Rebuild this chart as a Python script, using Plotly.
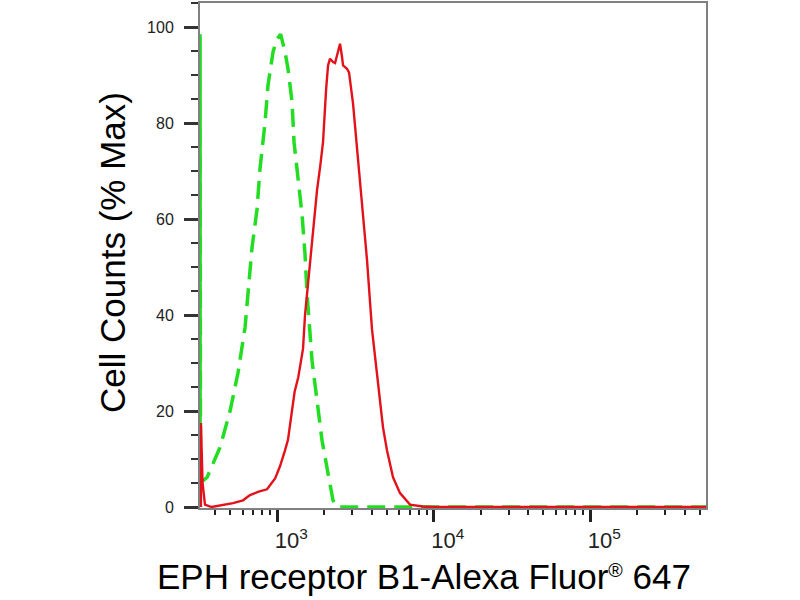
import plotly.graph_objects as go

# isotype control (green dashed) - fluorescence intensity vs % max
green_x = [321, 321, 323, 356, 430, 499, 561, 622, 669, 689, 742, 775, 834, 873,
           939, 995, 1050, 1120, 1170, 1242, 1279, 1357, 1438, 1503, 1549, 1667,
           1794, 1930, 2109, 2269, 2400, 550000]
green_y = [0, 98.5, 5, 6.2, 12.4, 20, 28, 37.4, 48.5, 54, 62, 70.5, 80, 88,
           94.8, 97.5, 98.5, 94.8, 91.3, 84.4, 76, 67.8, 61, 52.7, 44.4, 30.5,
           22.2, 13.9, 7, 1.4, 0, 0]

# EPH receptor B1 stained sample (red solid)
red_x = [325, 325, 333, 345, 380, 412, 521, 604, 669, 760, 860, 970, 1040, 1120,
         1170, 1240, 1290, 1360, 1460, 1503, 1618, 1700, 1794, 1880, 1959, 2050,
         2109, 2172, 2269, 2339, 2443, 2516, 2590, 2630, 2788, 2873, 3048, 3376,
         3741, 4027, 4336, 4734, 5023, 5486, 6081, 7044, 8500, 10000, 550000]
red_y = [0, 17.5, 5, 0.5, 0, 0.2, 0.8, 1.4, 2.5, 3.2, 3.7, 6, 8.5, 11.8,
         14, 20, 24, 27, 33, 40, 51, 59, 66, 71, 76, 87,
         92, 93.4, 92.7, 92.5, 95, 96.5, 93.8, 92, 91.3, 90.5, 84, 68.5,
         51.5, 37, 27, 16.6, 11.8, 6.2, 2.9, 0.5, 0.1, 0, 0]

y_ticks = [0, 20, 40, 60, 80, 100]
x_ticks = [1e3, 1e4, 1e5]
x_ticktext = ["10<sup>3</sup>", "10<sup>4</sup>", "10<sup>5</sup>"]

FONT = "Liberation Sans, Arial, sans-serif"

fig = go.Figure()
fig.add_trace(go.Scatter(x=green_x, y=green_y, mode="lines",
                         line=dict(color="#22dd22", width=3.5, dash="18px,9px")))
fig.add_trace(go.Scatter(x=red_x, y=red_y, mode="lines",
                         line=dict(color="#e3121a", width=2.4)))

# minor ticks at 2..9 of each decade
minor_x = [m * 10 ** d for d in range(2, 6) for m in range(2, 10)
           if 320 < m * 10 ** d < 550000]

fig.update_xaxes(type="log", range=[2.506, 5.739],
                 showline=True, linecolor="#808080", linewidth=2, mirror=True,
                 ticks="outside", ticklen=12, tickwidth=3, tickcolor="#222",
                 tickvals=x_ticks, ticktext=x_ticktext,
                 tickfont=dict(family=FONT, size=22, color="#222"),
                 ticklabelshift=14, ticklabelstandoff=0,
                 minor=dict(tickvals=minor_x, ticks="outside", ticklen=5,
                            tickwidth=1.5, tickcolor="#222"),
                 showgrid=False, zeroline=False, layer="below traces")
fig.update_yaxes(range=[-0.2, 105],
                 showline=True, linecolor="#808080", linewidth=2, mirror=True,
                 ticks="outside", ticklen=14, tickwidth=3, tickcolor="#333",
                 tickvals=y_ticks,
                 tickfont=dict(family=FONT, size=16, color="#222"),
                 ticklabelstandoff=7,
                 minor=dict(dtick=5, tick0=0, ticks="outside", ticklen=7,
                            tickwidth=1.5, tickcolor="#333"),
                 showgrid=False, zeroline=False, layer="below traces")

fig.add_annotation(text="EPH receptor B1-Alexa Fluor<span style='font-size:28px'><sup>®</sup></span> 647",
                   xref="paper", yref="paper", x=(424 - 200) / 506, y=-(577 - 508) / 507,
                   xanchor="center", yanchor="middle", showarrow=False,
                   font=dict(family=FONT, size=35, color="black"))
fig.add_annotation(text="Cell Counts (% Max)", textangle=-90,
                   xref="paper", yref="paper", x=(112 - 200) / 506, y=(508 - 252) / 507,
                   xanchor="center", yanchor="middle", showarrow=False,
                   font=dict(family=FONT, size=35, color="black"))

fig.update_layout(width=800, height=600, showlegend=False,
                  plot_bgcolor="white", paper_bgcolor="white",
                  margin=dict(l=200, r=94, t=1, b=92))

# drop the page's default body margin so the figure sits at the window corner
fig.write_html("out.html", config={"displayModeBar": False},
               post_script="document.body.style.margin='0px';")
